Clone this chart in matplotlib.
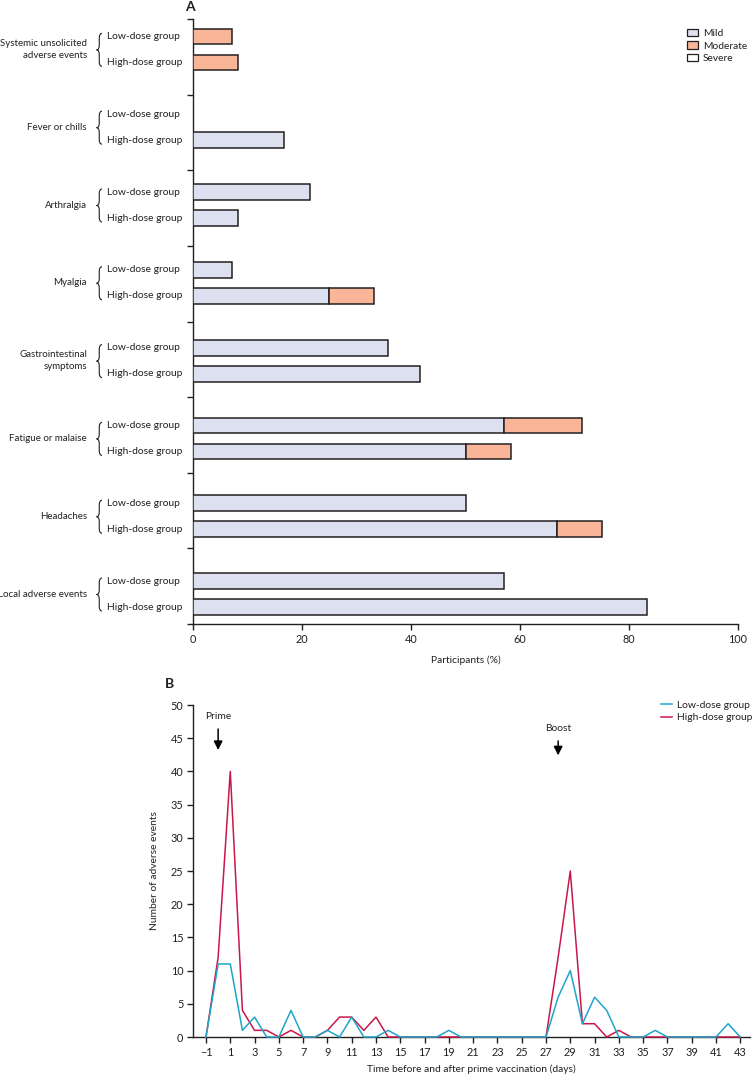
import numpy as np
import matplotlib
matplotlib.use('Agg')
from matplotlib import pyplot as plt
from matplotlib.patches import Patch, PathPatch
from matplotlib.lines import Line2D
from matplotlib.path import Path

plt.rcParams['font.family'] = ['Lato', 'DejaVu Sans']
fs = 7.4      # general text
fs_cat = 7.0  # category labels on the left (narrow space)
fs_tick = 7.8
plt.rcParams['font.size'] = fs
plt.rcParams['text.color'] = '#231f20'
plt.rcParams['axes.labelcolor'] = '#231f20'
plt.rcParams['xtick.color'] = '#231f20'
plt.rcParams['ytick.color'] = '#231f20'

# %% data
categories = ['Systemic unsolicited\nadverse events', 'Fever or chills', 'Arthralgia', 'Myalgia',
              'Gastrointestinal\nsymptoms', 'Fatigue or malaise', 'Headaches', 'Local adverse events']
groups = ['Low-dose group', 'High-dose group']
low_mild = [0, 0, 21.4, 7.1, 35.7, 57.1, 50.0, 57.1]
low_moderate = [7.1, 0, 0, 0, 0, 14.3, 0, 0]
low_severe = [0, 0, 0, 0, 0, 0, 0, 0]
high_mild = [0, 16.7, 8.3, 25.0, 41.7, 50.0, 66.7, 83.3]
high_moderate = [8.3, 0, 0, 8.3, 0, 8.3, 8.3, 0]
high_severe = [0, 0, 0, 0, 0, 0, 0, 0]
severity = ['Mild', 'Moderate', 'Severe']
sev_colors = ['#dde0ef', '#f9b598', 'white']

days = list(range(-1, 44))
low_events = [0, 11, 11, 1, 3, 0, 0, 4, 0, 0, 1, 0, 3, 0, 0, 1, 0, 0, 0, 0, 1, 0, 0,
              0, 0, 0, 0, 0, 0, 6, 10, 2, 6, 4, 0, 0, 0, 1, 0, 0, 0, 0, 0, 2, 0]
high_events = [0, 12, 40, 4, 1, 1, 0, 1, 0, 0, 1, 3, 3, 1, 3, 0, 0, 0, 0, 0, 0, 0, 0,
               0, 0, 0, 0, 0, 0, 12, 25, 2, 2, 0, 1, 0, 0, 0, 0, 0, 0, 0, 0, 0, 0]
x_ticks = list(range(-1, 44, 2))
y_ticks = list(range(0, 51, 5))

fig = plt.figure(figsize=(7.53, 10.74), dpi=100)

# %% panel A
ax = fig.add_axes([193 / 753, 1 - 624 / 1074, 545 / 753, 605 / 1074])
n = len(categories)
ybot = 7.776
pos_low = np.arange(n) + 0.225
pos_high = np.arange(n) + 0.559
h = 0.205

for pos, parts in [(pos_low, [low_mild, low_moderate, low_severe]),
                   (pos_high, [high_mild, high_moderate, high_severe])]:
    left = np.zeros(n)
    for vals, col in zip(parts, sev_colors):
        vals = np.array(vals, dtype=float)
        m = vals > 0
        ax.barh(pos[m], vals[m], height=h, left=left[m], color=col,
                edgecolor='#231f20', linewidth=1.1, zorder=3)
        left = left + vals

ax.set_xlim(0, 100)
ax.set_ylim(ybot, 0)
ax.set_xticks([0, 20, 40, 60, 80, 100])
ax.set_yticks(np.linspace(0, ybot, n + 1))
ax.set_yticklabels([])
ax.spines['top'].set_visible(False)
ax.spines['right'].set_visible(False)
for s in ['left', 'bottom']:
    ax.spines[s].set_linewidth(1.0)
    ax.spines[s].set_color('#231f20')
ax.tick_params(direction='out', length=4, width=1.0, labelsize=fs_tick, pad=3)
ax.set_xlabel('Participants (%)', fontsize=fs, labelpad=8)

trans = ax.get_yaxis_transform()


def brace(ax, y0, y1, xtip, xr):
    ym = (y0 + y1) / 2
    xm = (xtip + xr) / 2
    c = 0.06
    verts = [(xr, y0), (xm, y0), (xm, y0 + c), (xm, ym - c), (xm, ym), (xtip, ym),
             (xm, ym), (xm, ym + c), (xm, y1 - c), (xm, y1), (xr, y1)]
    codes = [Path.MOVETO, Path.CURVE3, Path.CURVE3, Path.LINETO, Path.CURVE3, Path.CURVE3,
             Path.CURVE3, Path.CURVE3, Path.LINETO, Path.CURVE3, Path.CURVE3]
    ax.add_patch(PathPatch(Path(verts, codes), fill=False, lw=0.8, edgecolor='#231f20',
                           transform=ax.get_yaxis_transform(), clip_on=False))


for i, cat in enumerate(categories):
    mid = (pos_low[i] + pos_high[i]) / 2
    ax.text(-0.1945, mid, cat, transform=trans, ha='right', va='center', fontsize=fs_cat,
            linespacing=1.35)
    ax.text(-0.1578, pos_low[i], groups[0], transform=trans, ha='left', va='center', fontsize=fs)
    ax.text(-0.1578, pos_high[i], groups[1], transform=trans, ha='left', va='center', fontsize=fs)
    brace(ax, pos_low[i] - 0.04, pos_high[i] + 0.05, -0.177, -0.167)

handles = [Patch(facecolor=c, edgecolor='#231f20', linewidth=0.9) for c in sev_colors]
ax.legend(handles, severity, loc='upper left', bbox_to_anchor=(0.898, 0.99), frameon=False,
          fontsize=fs, handlelength=1.1, handleheight=0.7, handletextpad=0.5, labelspacing=0.3,
          borderaxespad=0)
fig.text(190 / 753, 1 - 7 / 1074, 'A', fontsize=10, fontweight='bold', ha='center', va='center')

# %% panel B
bx = fig.add_axes([193 / 753, 1 - 1037 / 1074, 557 / 753, 332 / 1074])
bx.plot(days, high_events, color='#c8184a', lw=1.1, clip_on=False, zorder=3,
        label='High-dose group')
bx.plot(days, low_events, color='#1ea5c9', lw=1.1, clip_on=False, zorder=4,
        label='Low-dose group')
bx.set_xlim(-2.07, 43.8)
bx.set_ylim(0, 50)
bx.set_xticks(x_ticks)
bx.set_yticks(y_ticks)
bx.spines['top'].set_visible(False)
bx.spines['right'].set_visible(False)
for s in ['left', 'bottom']:
    bx.spines[s].set_linewidth(1.0)
    bx.spines[s].set_color('#231f20')
bx.tick_params(direction='out', length=4, width=1.0, labelsize=fs_tick, pad=3)
bx.set_xlabel('Time before and after prime vaccination (days)', fontsize=fs, labelpad=5)
bx.set_ylabel('Number of adverse events', fontsize=fs, labelpad=8)

bx.annotate('', xy=(0, 42.8), xytext=(0, 46.8),
            arrowprops=dict(arrowstyle='-|>', color='black', lw=1.1, mutation_scale=13))
bx.text(0, 48.3, 'Prime', ha='center', va='center', fontsize=fs)
bx.annotate('', xy=(28, 42.0), xytext=(28, 45.0),
            arrowprops=dict(arrowstyle='-|>', color='black', lw=1.1, mutation_scale=13))
bx.text(28, 46.5, 'Boost', ha='center', va='center', fontsize=fs)

lh = [Line2D([], [], color='#1ea5c9', lw=1.1), Line2D([], [], color='#c8184a', lw=1.1)]
bx.legend(lh, groups, loc='upper left', bbox_to_anchor=(0.832, 1.025), frameon=False,
          fontsize=fs, handlelength=1.1, handletextpad=0.5, labelspacing=0.3, borderaxespad=0)
fig.text(170 / 753, 1 - 684 / 1074, 'B', fontsize=10, fontweight='bold', ha='center', va='center')

fig.savefig('out.png', dpi=100)
